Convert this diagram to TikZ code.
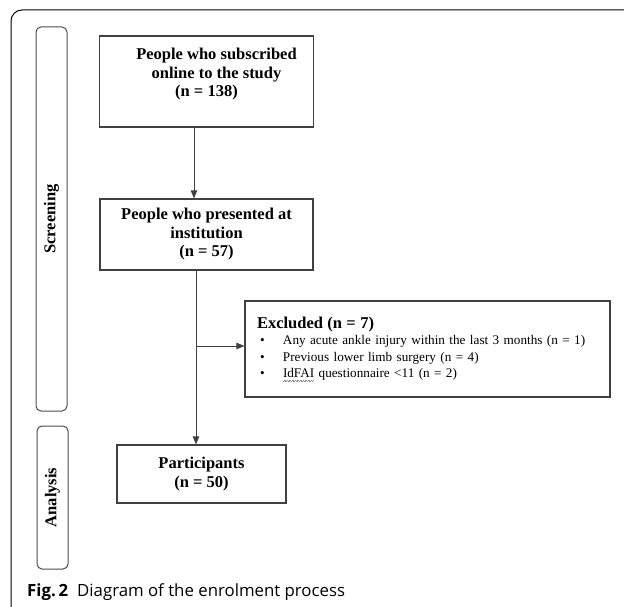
\documentclass[tikz,border=0pt]{standalone}
\usepackage{fontspec}
\setmainfont{Liberation Serif}
\newfontfamily\capfont{Open Sans}
\usetikzlibrary{positioning,arrows.meta}

\newcommand\squig[1]{\setbox0\hbox{#1}\rlap{\color{black!45}%
  \hbox to\wd0{\leaders\hbox{\rule[-3.2pt]{0.8pt}{0.5pt}\rule[-2.6pt]{0.8pt}{0.5pt}}\hfil}}#1}

\begin{document}
\begin{tikzpicture}[x=1pt, y=-1pt,
  box/.style={draw=black!75, line width=1.2pt, inner sep=0pt, align=center,
    font=\bfseries\fontsize{16.5}{18.5}\selectfont},
  tab/.style={draw=black!70, line width=1pt, rounded corners=5pt, rotate=90,
    minimum height=31pt, inner sep=0pt, font=\bfseries\fontsize{16.5}{18.5}\selectfont},
  link/.style={draw=black!75, line width=1pt},
  arr/.style={link, -{Triangle[length=8pt, width=6.5pt]}}]
  \useasboundingbox (0,0) rectangle (624,607);
  % outer frame
  \draw[line width=1pt, rounded corners=11pt] (11,607) -- (11,10) -- (624,10);
  % stage tabs
  \node[tab, minimum width=384pt] (screen) at (51.5,219) {Screening};
  \node[tab, minimum width=143pt] (anal) at (52.5,497.5) {Analysis};
  % flow boxes
  \node[box, minimum width=214pt, minimum height=91pt, text depth=18pt] (subs) at (206.5,81.5)
    {\hspace*{20pt}People who subscribed\\ \hspace*{20pt}online to the study\\ (n = 138)};
  \node[box, minimum width=213pt, minimum height=71pt] (pres) at (206.5,234.5)
    {People who presented at\\ institution\\ (n = 57)};
  \node[box, minimum width=365pt, minimum height=96pt, text width=341pt, align=left,
    font=\fontsize{13.2}{16.5}\selectfont] (excl) at (427.5,349)
    {{\bfseries\fontsize{16.5}{17}\selectfont Excluded (n = 7)}\\
     \makebox[26pt][l]{\hspace{3pt}\textbullet}Any acute ankle injury within the last 3 months (n = 1)\\
     \makebox[26pt][l]{\hspace{3pt}\textbullet}Previous lower limb surgery (n = 4)\\
     \makebox[26pt][l]{\hspace{3pt}\textbullet}\squig{IdFAI} questionnaire <11 (n = 2)};
  \node[box, minimum width=169pt, minimum height=58pt] (part) at (201.5,474)
    {Participants\\ (n = 50)};
  % connectors
  \coordinate (split) at (196,346);
  \draw[arr] ([xshift=-12.5pt]subs.south) -- ([xshift=-12.5pt]pres.north);
  \draw[link] (pres.south -| split) -- (split);
  \draw[arr] (split) -- (split -| excl.west);
  \draw[arr] (split) -- (split |- part.north);
  % caption
  \node[anchor=base west, inner sep=0pt, font=\capfont\fontsize{16.8}{19}\selectfont] (cap) at (27,596)
    {\textbf{Fig.\,2}\hspace{9pt}Diagram of the enrolment process};
\end{tikzpicture}
\end{document}
